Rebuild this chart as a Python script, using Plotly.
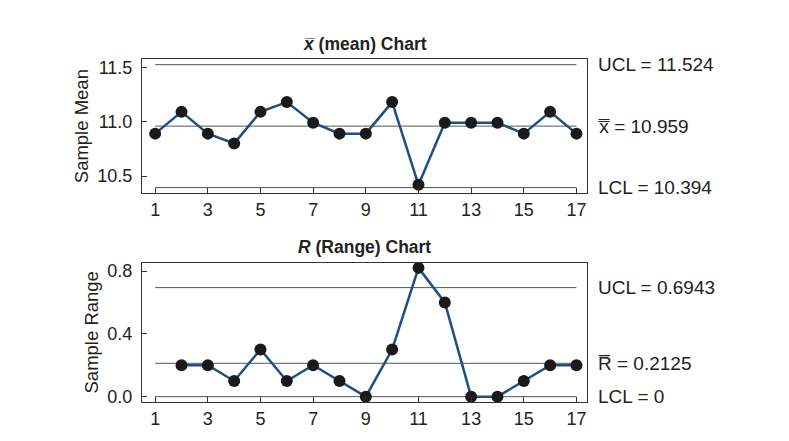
import plotly.graph_objects as go

samples = list(range(1, 18))
sample_means = [10.89, 11.09, 10.89, 10.8, 11.09, 11.18, 10.99, 10.89, 10.89, 11.18, 10.42, 10.99, 10.99, 10.99, 10.89, 11.09, 10.89]
range_samples = list(range(2, 18))
sample_ranges = [0.2, 0.2, 0.1, 0.3, 0.1, 0.2, 0.1, 0.0, 0.3, 0.82, 0.6, 0.0, 0.0, 0.1, 0.2, 0.2]

xbar_limits = {"UCL": 11.524, "CL": 10.959, "LCL": 10.394}
r_limits = {"UCL": 0.6943, "CL": 0.2125, "LCL": 0.0}
xbar_labels = ["UCL = 11.524", "x\u033f = 10.959", "LCL = 10.394"]
r_labels = ["UCL = 0.6943", "R\u0305 = 0.2125", "LCL = 0"]
tick_vals = [1, 3, 5, 7, 9, 11, 13, 15, 17]

FONT = "Liberation Sans, Arial, sans-serif"
LINE_COLOR = "#1d4f85"
GRID = "#555555"
TXT = "#222222"

fig = go.Figure()

# control lines
for key in ["UCL", "CL", "LCL"]:
    fig.add_trace(go.Scatter(x=[samples[0], samples[-1]], y=[xbar_limits[key]] * 2, mode="lines",
                             line=dict(color=GRID, width=1), xaxis="x", yaxis="y", hoverinfo="skip"))
for key in ["UCL", "CL", "LCL"]:
    fig.add_trace(go.Scatter(x=[samples[0], samples[-1]], y=[r_limits[key]] * 2, mode="lines",
                             line=dict(color=GRID, width=1), xaxis="x2", yaxis="y2", hoverinfo="skip"))

fig.add_trace(go.Scatter(x=samples, y=sample_means, mode="lines+markers",
                         line=dict(color=LINE_COLOR, width=2.5),
                         marker=dict(color="#1a1a1a", size=12),
                         xaxis="x", yaxis="y"))
fig.add_trace(go.Scatter(x=range_samples, y=sample_ranges, mode="lines+markers",
                         line=dict(color=LINE_COLOR, width=2.5),
                         marker=dict(color="#1a1a1a", size=12),
                         xaxis="x2", yaxis="y2"))

annotations = []
for key, lab in zip(["UCL", "CL", "LCL"], xbar_labels):
    annotations.append(dict(x=1.02, xref="paper", y=xbar_limits[key], yref="y", text=lab,
                            showarrow=False, xanchor="left", yanchor="middle",
                            font=dict(family=FONT, size=19, color=TXT)))
for key, lab in zip(["UCL", "CL", "LCL"], r_labels):
    annotations.append(dict(x=1.02, xref="paper", y=r_limits[key], yref="y2", text=lab,
                            showarrow=False, xanchor="left", yanchor="middle",
                            font=dict(family=FONT, size=19, color=TXT)))
annotations.append(dict(x=0.5, xref="paper", y=1.0, yref="paper", yshift=3, text="<b><i>x\u0305</i> (mean) Chart</b>",
                        showarrow=False, xanchor="center", yanchor="bottom",
                        font=dict(family=FONT, size=17.5, color=TXT)))
annotations.append(dict(x=0.5, xref="paper", y=0.4066, yref="paper", yshift=4, text="<b><i>R</i> (Range) Chart</b>",
                        showarrow=False, xanchor="center", yanchor="bottom",
                        font=dict(family=FONT, size=17.5, color=TXT)))

axis_common = dict(showgrid=False, zeroline=False, showline=True, linecolor="#333", linewidth=1,
                   mirror=True, ticks="inside", ticklen=5, tickcolor="#333",
                   tickfont=dict(family=FONT, size=18, color=TXT))

fig.update_layout(
    width=789, height=441,
    margin=dict(l=142, r=202, t=59, b=33),
    paper_bgcolor="white", plot_bgcolor="white",
    showlegend=False,
    annotations=annotations,
    xaxis=dict(domain=[0, 1], anchor="y", range=[0.5, 17.4], tickvals=tick_vals, **axis_common),
    yaxis=dict(domain=[0.6086, 1], anchor="x", range=[10.342, 11.576], tickvals=[10.5, 11.0, 11.5],
               ticktext=["10.5", "11.0", "11.5"], ticklabelstandoff=5,
               title=dict(text="Sample Mean", font=dict(family=FONT, size=18.5, color=TXT), standoff=3),
               **axis_common),
    xaxis2=dict(domain=[0, 1], anchor="y2", range=[0.5, 17.4], tickvals=tick_vals, **axis_common),
    yaxis2=dict(domain=[0, 0.4066], anchor="x2", range=[-0.034, 0.854], tickvals=[0.0, 0.4, 0.8],
                ticktext=["0.0", "0.4", "0.8"], ticklabelstandoff=5,
                title=dict(text="Sample Range", font=dict(family=FONT, size=18.5, color=TXT), standoff=3),
                **axis_common),
)

fig.write_html("out.html", config={"displayModeBar": False},
               post_script="document.body.style.margin='0px';")
